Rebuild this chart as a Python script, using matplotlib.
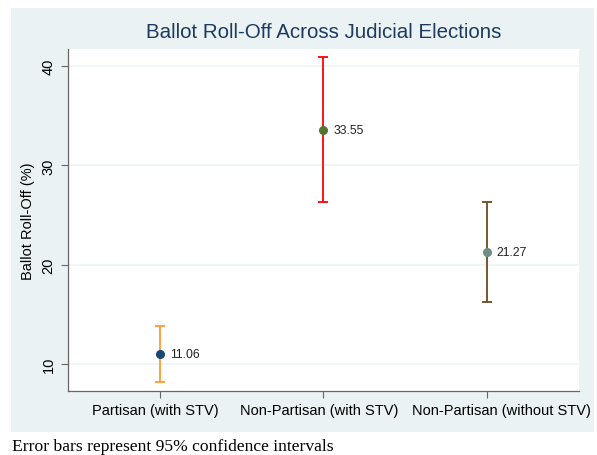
import matplotlib.pyplot as plt
import matplotlib.transforms as mtransforms
import numpy as np

# data
groups = ['Partisan (with STV)', 'Non-Partisan (with STV)', 'Non-Partisan (without STV)']
means = [11.06, 33.55, 21.27]
ci_low = [8.2, 26.3, 16.3]
ci_high = [13.85, 40.85, 26.3]
bar_colors = ['#ff9a33', '#ff0000', '#6b4a1f']
dot_colors = ['#1a476f', '#55752f', '#6e8e84']

plt.rcParams['font.family'] = ['Liberation Sans', 'DejaVu Sans']

fig = plt.figure(figsize=(5.97, 4.56), dpi=100)
# stata graph region
bg = fig.add_axes([11 / 597, 1 - 433 / 456, 583 / 597, 424 / 456])
bg.set_facecolor('#eaf2f3')
bg.set_xticks([])
bg.set_yticks([])
for s in bg.spines.values():
    s.set_visible(False)
bg.set_zorder(0)

ax = fig.add_axes([68 / 597, 1 - 392 / 456, 511 / 597, 342 / 456])
ax.set_zorder(1)
ax.set_facecolor('white')

x = np.arange(1, len(groups) + 1)
for i in range(len(groups)):
    ax.errorbar(x[i], means[i],
                yerr=[[means[i] - ci_low[i]], [ci_high[i] - means[i]]],
                fmt='none', ecolor=bar_colors[i], elinewidth=1.3,
                capsize=3.5, capthick=1.3, zorder=2)
    ax.plot(x[i], means[i], 'o', color=dot_colors[i], markersize=5.5, zorder=3)
    ax.annotate(f'{means[i]:.2f}', (x[i], means[i]), xytext=(7, 0),
                textcoords='offset points', va='center', ha='left',
                fontsize=8.8, color='#222222')

ax.set_xlim(0.437, 3.563)
ax.set_ylim(7.3, 41.7)
ax.set_yticks([10, 20, 30, 40])
ax.set_yticklabels(['10', '20', '30', '40'], rotation=90, va='center')
ax.set_xticks(x)
ax.set_xticklabels(groups)
ax.yaxis.grid(True, color='#edf3f4', linewidth=1.2)
ax.set_axisbelow(True)
ax.tick_params(axis='both', colors='#666666', labelcolor='black', labelsize=10.5,
               length=5, width=0.8)
ax.tick_params(axis='y', pad=4)
for s in ['top', 'right']:
    ax.spines[s].set_visible(False)
for s in ['left', 'bottom']:
    ax.spines[s].set_color('#666666')
    ax.spines[s].set_linewidth(0.9)

# stata nudges the category labels a little (last one pushed right)
shifts = [-5, -4, 14]
for lab, dx in zip(ax.get_xticklabels(), shifts):
    lab.set_transform(lab.get_transform() +
                      mtransforms.ScaledTranslation(dx / 100, 0, fig.dpi_scale_trans))

ax.set_ylabel('Ballot Roll-Off (%)', fontsize=10.5, labelpad=5)
fig.text(323.5 / 597, 1 - 33 / 456, 'Ballot Roll-Off Across Judicial Elections',
         ha='center', va='center', fontsize=14.8, color='#1e3a5f')

fig.text(12 / 597, 1 - 451 / 456, 'Error bars represent 95% confidence intervals',
         ha='left', va='baseline', fontsize=12.6, family=['Liberation Serif', 'DejaVu Serif'])

fig.savefig('out.png', dpi=100, facecolor='white')
